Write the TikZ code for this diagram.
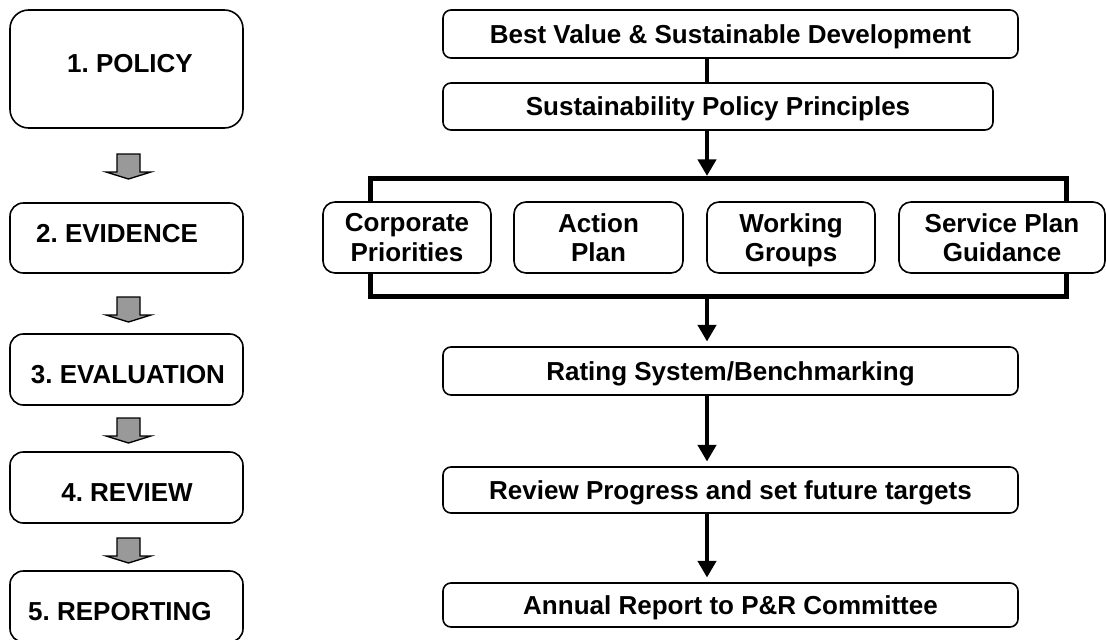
\documentclass[tikz,border=0pt]{standalone}
\usepackage{fontspec}
\setmainfont{Liberation Sans}
\usetikzlibrary{arrows.meta,calc}
\newlength\pxu \setlength\pxu{0.75pt}
\definecolor{garr}{HTML}{999999}
\frenchspacing
\begin{document}
\begin{tikzpicture}[x=0.75pt,y=-0.75pt,
  every node/.style={font=\fontsize{19.5}{22}\selectfont\bfseries, text height=14pt, text depth=0pt},
  lbox/.style={draw, line width=1.2pt, rounded corners=10pt, minimum width=233\pxu, inner sep=0pt},
  rbox/.style={draw, line width=1.2pt, rounded corners=6pt, minimum width=575\pxu, minimum height=48\pxu, inner sep=0pt},
  sbox/.style={draw, line width=1.2pt, rounded corners=9pt, fill=white, minimum height=71\pxu, inner sep=0pt, align=center, text height=, text depth=},
  spineline/.style={line width=3.4pt},
  flow/.style={line width=3.4pt, -{Triangle[width=13.5pt,length=12.5pt]}, shorten >=3.5pt},
  garrow/.pic={\draw[line width=1pt, fill=garr, line join=miter]
     (-11.5,0) -- (11.5,0) -- (11.5,18) -- (22.5,18) -- (0,25) -- (-22.5,18) -- (-11.5,18) -- cycle;}
]
\useasboundingbox (0,0) rectangle (1106,639);

% left column
\node[lbox, rounded corners=14pt, minimum height=118\pxu,
      label={[xshift=2.6pt,yshift=4.5pt]center:1. POLICY}] (p1) at (126.5,69) {};
\node[lbox, minimum height=70\pxu,
      label={[xshift=-7.1pt,yshift=3.75pt]center:2. EVIDENCE}] (p2) at (126.5,238) {};
\node[lbox, minimum height=71\pxu,
      label={[xshift=1.1pt,yshift=-3.4pt]center:3. EVALUATION}] (p3) at (126.5,369.5) {};
\node[lbox, minimum height=71\pxu,
      label={[xshift=0.4pt,yshift=-3.4pt]center:4. REVIEW}] (p4) at (126.5,487.5) {};
\node[lbox, minimum height=71\pxu,
      label={[xshift=-4.9pt,yshift=-3.4pt]center:5. REPORTING}] (p5) at (126.5,606.5) {};

\pic at (128.5,154) {garrow};
\pic at (128.5,297) {garrow};
\pic at (128.5,418) {garrow};
\pic at (128.5,538) {garrow};

% right column
\coordinate (spine) at (707,0);
\node[rbox] (bv) at (730.5,34) {Best Value \& Sustainable Development};
\node[rbox, minimum width=550\pxu, minimum height=47\pxu] (spp) at (718,106.5) {Sustainability Policy Principles};

\node[draw, line width=3.75pt, minimum width=696\pxu, minimum height=117.5\pxu, inner sep=0pt] (frame) at (718.5,237.25) {};

\node[sbox, minimum width=168\pxu] (cp) at (407,237.5) {Corporate\\Priorities};
\node[sbox, minimum width=169\pxu] (ap) at (598.5,237.5) {Action\\Plan};
\node[sbox, minimum width=168\pxu] (wg) at (791,237.5) {Working\\\raisebox{0pt}[\height][0pt]{Groups}};
\node[sbox, minimum width=206\pxu] (sp) at (1002,237.5) {Service Plan\\Guidance};

\node[rbox] (rating) at (730.5,371) {Rating System/Benchmarking};
\node[rbox, minimum height=46\pxu] (review) at (730.5,490) {Review Progress and set future targets};
\node[rbox, minimum height=44\pxu] (annual) at (730.5,605) {Annual Report to P\&R Committee};

\draw[spineline] (bv.south -| spine) -- (spp.north -| spine);
\draw[flow, shorten >=0pt] (spp.south -| spine) -- (frame.north -| spine);
\draw[flow] (frame.south -| spine) -- (rating.north -| spine);
\draw[flow] (rating.south -| spine) -- (review.north -| spine);
\draw[flow] (review.south -| spine) -- (annual.north -| spine);
\end{tikzpicture}
\end{document}
